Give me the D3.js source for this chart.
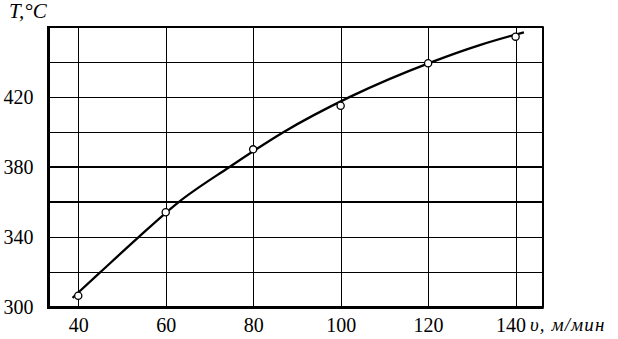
<!DOCTYPE html>
<html>
<head>
<meta charset="utf-8">
<script src="https://cdn.jsdelivr.net/npm/d3@7"></script>
<style>
body { margin: 0; background: #fff; }
text { font-family: "Liberation Serif", "Times New Roman", serif; fill: #000; }
</style>
</head>
<body>
<div id="chart"></div>
<script>
// measured points
var speeds = [40, 60, 80, 100, 120, 140];
var temps = [306.7, 354.3, 390.2, 415.1, 439.3, 454.5];

// the smoothed curve
var fitSpeeds = [38.7, 45, 53.3, 62.9, 74.5, 86.9, 102, 120.8, 131.8, 141.9];
var fitTemps = [305.5, 320, 339, 360, 380, 400, 420, 440, 449.7, 457];

var xTicks = [40, 60, 80, 100, 120, 140];
var yGrid = [320, 340, 360, 380, 400, 420, 440];
var yLabels = [300, 340, 380, 420];
var boldLines = [360, 380];

var width = 618;
var height = 339;
var padding = { top: 27, right: 75.3, bottom: 31.5, left: 48.5 };

var chartWidth = width - padding.left - padding.right;
var chartHeight = height - padding.top - padding.bottom;

var svg = d3.select('#chart')
    .append('svg')
    .attr('width', width)
    .attr('height', height);

var xScale = d3.scaleLinear()
    .domain([33.2, 146.2])
    .range([padding.left, padding.left + chartWidth]);
var yScale = d3.scaleLinear()
    .domain([300, 460])
    .range([padding.top + chartHeight, padding.top]);

// snap thin lines to the pixel grid
function px(v) { return Math.round(v) + 0.5; }

// vertical grid
svg.selectAll('.vgrid')
    .data(xTicks)
    .enter().append('line')
    .attr('class', 'vgrid')
    .attr('x1', function(d) { return px(xScale(d)); })
    .attr('x2', function(d) { return px(xScale(d)); })
    .attr('y1', padding.top)
    .attr('y2', padding.top + chartHeight)
    .attr('stroke', '#000')
    .attr('stroke-width', 1);

// horizontal grid
svg.selectAll('.hgrid')
    .data(yGrid)
    .enter().append('line')
    .attr('class', 'hgrid')
    .attr('x1', padding.left)
    .attr('x2', padding.left + chartWidth)
    .attr('y1', function(d) { return boldLines.indexOf(d) >= 0 ? Math.round(yScale(d)) : px(yScale(d)); })
    .attr('y2', function(d) { return boldLines.indexOf(d) >= 0 ? Math.round(yScale(d)) : px(yScale(d)); })
    .attr('stroke', '#000')
    .attr('stroke-width', function(d) { return boldLines.indexOf(d) >= 0 ? 2 : 1; });

// x labels
var xAxis = svg.append('g')
    .attr('transform', 'translate(0,' + (padding.top + chartHeight) + ')')
    .call(d3.axisBottom(xScale)
        .tickValues(xTicks)
        .tickSize(0)
        .tickPadding(10)
        .tickFormat(d3.format('d')));
xAxis.select('.domain').remove();
xAxis.selectAll('text')
    .attr('font-size', 20)
    .attr('font-family', '"Liberation Serif", serif')
    .attr('dx', function(d) { return d === 140 ? -5 : 0; });

// y labels
var yAxis = svg.append('g')
    .attr('transform', 'translate(' + padding.left + ',0)')
    .call(d3.axisLeft(yScale)
        .tickValues(yLabels)
        .tickSize(0)
        .tickPadding(15)
        .tickFormat(d3.format('d')));
yAxis.select('.domain').remove();
yAxis.selectAll('text')
    .attr('font-size', 20)
    .attr('font-family', '"Liberation Serif", serif');

// frame: thin top/right, thick left/bottom
svg.append('line')
    .attr('x1', padding.left).attr('x2', padding.left + chartWidth + 1)
    .attr('y1', 27).attr('y2', 27)
    .attr('stroke', '#000').attr('stroke-width', 2);
svg.append('line')
    .attr('x1', Math.round(padding.left + chartWidth)).attr('x2', Math.round(padding.left + chartWidth))
    .attr('y1', padding.top).attr('y2', padding.top + chartHeight)
    .attr('stroke', '#000').attr('stroke-width', 2);
svg.append('line')
    .attr('x1', padding.left).attr('x2', padding.left + chartWidth + 1)
    .attr('y1', padding.top + chartHeight).attr('y2', padding.top + chartHeight)
    .attr('stroke', '#000').attr('stroke-width', 3);
svg.append('line')
    .attr('x1', padding.left).attr('x2', padding.left)
    .attr('y1', padding.top - 1).attr('y2', padding.top + chartHeight + 1.5)
    .attr('stroke', '#000').attr('stroke-width', 3);

// fitted curve
var fitData = fitSpeeds.map(function(s, i) { return { v: s, t: fitTemps[i] }; });
var line = d3.line()
    .x(function(d) { return xScale(d.v); })
    .y(function(d) { return yScale(d.t); })
    .curve(d3.curveMonotoneX);
svg.append('path')
    .datum(fitData)
    .attr('d', line)
    .attr('fill', 'none')
    .attr('stroke', '#000')
    .attr('stroke-width', 2.3);

// points
var points = speeds.map(function(s, i) { return { v: s, t: temps[i] }; });
svg.selectAll('.pt')
    .data(points)
    .enter().append('circle')
    .attr('class', 'pt')
    .attr('cx', function(d) { return xScale(d.v); })
    .attr('cy', function(d) { return yScale(d.t); })
    .attr('r', 3.6)
    .attr('fill', '#fff')
    .attr('stroke', '#000')
    .attr('stroke-width', 1.3);

// axis titles
svg.append('text')
    .attr('x', 9)
    .attr('y', 18)
    .attr('font-size', 21)
    .attr('font-style', 'italic')
    .text('T,°C');
svg.append('text')
    .attr('x', 530)
    .attr('y', 331)
    .attr('font-size', 19)
    .attr('letter-spacing', 1.1)
    .attr('font-style', 'italic')
    .text('υ, м/мин');
</script>
</body>
</html>
